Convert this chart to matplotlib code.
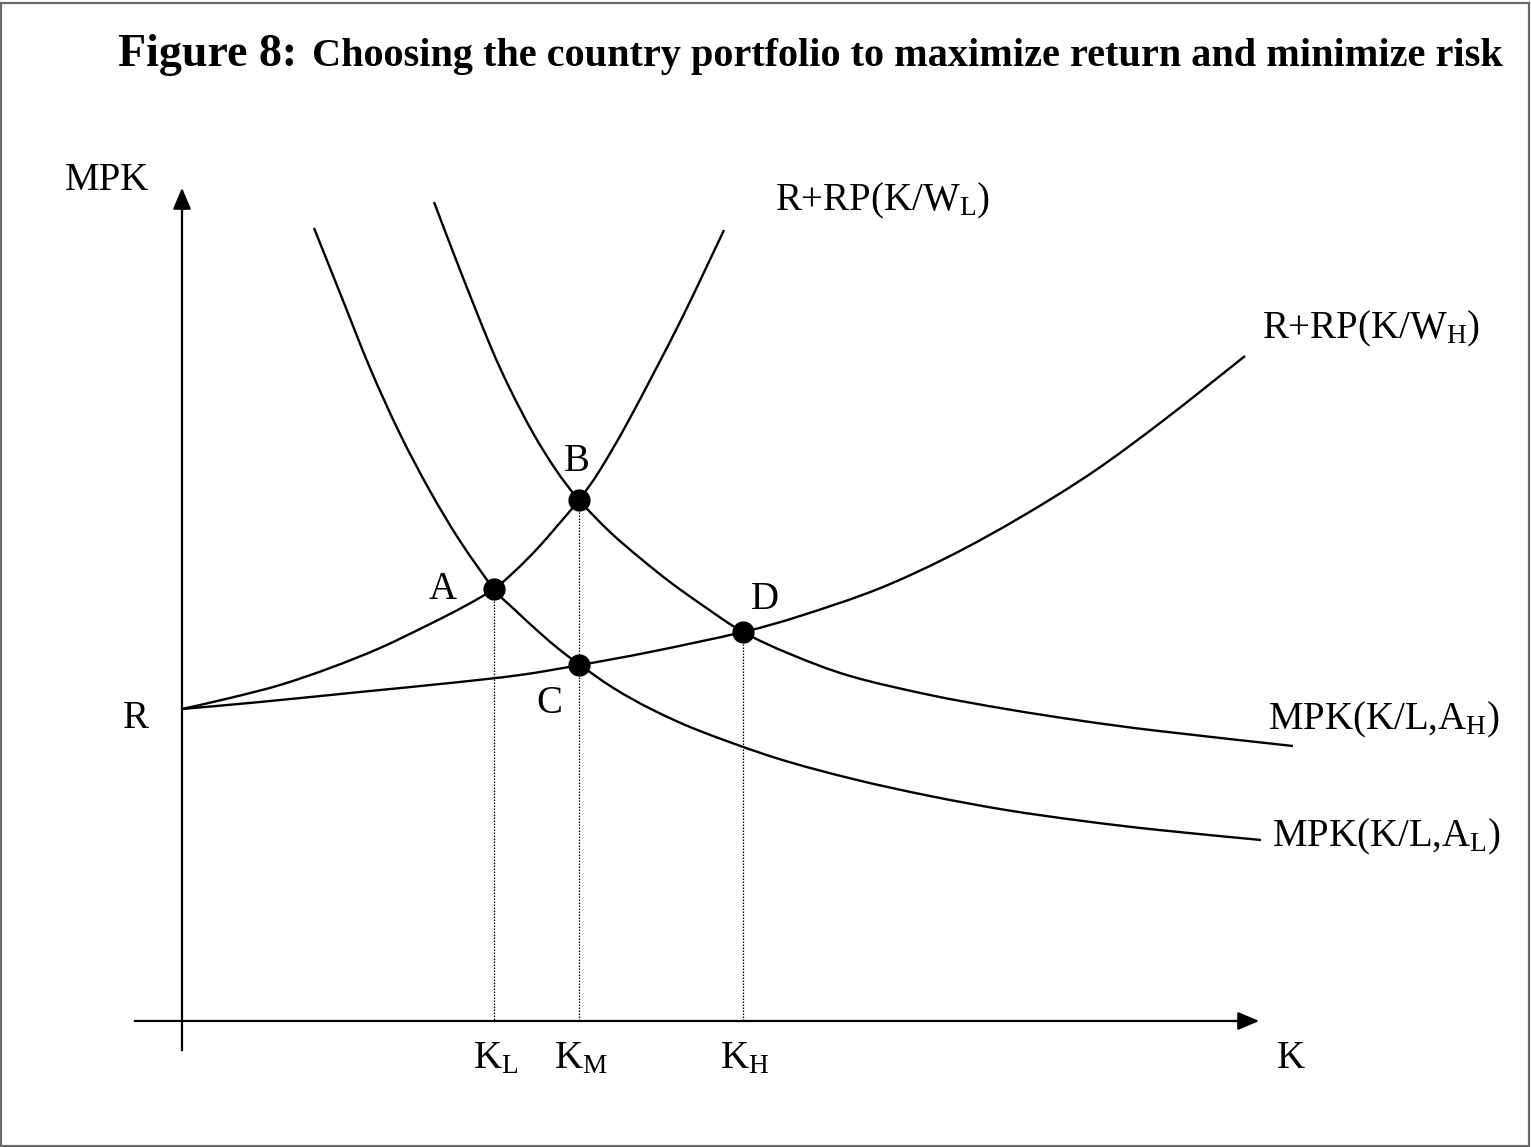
import matplotlib
matplotlib.use("Agg")
import numpy as np
import matplotlib.pyplot as plt
from matplotlib.patches import Rectangle, PathPatch
from matplotlib.path import Path

plt.rcParams['font.family'] = ['Liberation Serif', 'DejaVu Serif']
plt.rcParams['mathtext.fontset'] = 'custom'
plt.rcParams['mathtext.rm'] = 'Liberation Serif'
plt.rcParams['mathtext.default'] = 'rm'

# schematic coordinates (x to the right, y downward)
origin_x = 182
axis_y = 1021

# MPK(K/L, A_L)
mpk_low_x = [314, 340, 370, 400, 430, 460, 494, 515, 540, 560, 580, 615, 653, 700, 776, 853, 930, 1006, 1083, 1159, 1261]
mpk_low_y = [228, 293, 368, 434, 491, 541, 589, 610, 633, 650, 665, 689, 710, 731, 758, 779, 796, 810, 821, 830, 840]

# MPK(K/L, A_H)
mpk_high_x = [434, 460, 490, 510, 533, 556, 579, 610, 640, 670, 705, 743, 790, 850, 930, 1006, 1083, 1159, 1293]
mpk_high_y = [202, 270, 345, 389, 433, 470, 500, 532, 558, 582, 607, 632, 654, 676, 695, 709, 721, 731, 746]

# R+RP(K/W_L)
rp_low_x = [182, 230, 280, 330, 380, 430, 465, 494, 515, 537, 558, 579, 600, 630, 680, 724]
rp_low_y = [709, 698, 685, 668, 648, 624, 606, 589, 571, 549, 525, 500, 470, 418, 322, 230]

# R+RP(K/W_H)
rp_high_x = [182, 260, 360, 450, 520, 580, 650, 743, 800, 878, 950, 1021, 1093, 1164, 1245]
rp_high_y = [709, 702, 692, 683, 675, 665, 652, 632, 616, 589, 556, 517, 472, 420, 356]

# equilibrium points A, B, C, D
pt_names = ['A', 'B', 'C', 'D']
pt_x = [494, 579, 579, 743]
pt_y = [589, 500, 665, 632]

# K levels on the horizontal axis
k_names = ['K$_{L}$', 'K$_{M}$', 'K$_{H}$']
k_x = [494, 579, 743]
k_top = [589, 500, 632]


def smooth_path(xs, ys):
    # bezier path through the read points (Catmull-Rom handles)
    pts = np.column_stack([xs, ys]).astype(float)
    n = len(pts)
    verts = [pts[0]]
    codes = [Path.MOVETO]
    for i in range(n - 1):
        p0 = pts[i - 1] if i > 0 else pts[i]
        p1, p2 = pts[i], pts[i + 1]
        p3 = pts[i + 2] if i + 2 < n else pts[i + 1]
        verts += [p1 + (p2 - p0) / 6, p2 - (p3 - p1) / 6, p2]
        codes += [Path.CURVE4] * 3
    return Path(verts, codes)


fig = plt.figure(figsize=(15.31, 11.47), dpi=100)
ax = fig.add_axes([0, 0, 1, 1])
ax.set_xlim(0, 1531)
ax.set_ylim(1147, 0)
ax.axis('off')

# frame round the figure
fig.patches.append(Rectangle((0.0005, 0.0005), 0.998, 0.997, transform=fig.transFigure,
                             fill=False, edgecolor='#6a6a6a', lw=1.6))

# axes with arrows
ax.plot([origin_x, origin_x], [1050, 200], color='black', lw=1.6)
ax.annotate('', xy=(origin_x, 185), xytext=(origin_x, 215),
            arrowprops=dict(arrowstyle='-|>,head_length=1.3,head_width=0.55', color='black', lw=1.6))
ax.plot([135, 1245], [axis_y, axis_y], color='black', lw=1.6)
ax.annotate('', xy=(1262, axis_y), xytext=(1230, axis_y),
            arrowprops=dict(arrowstyle='-|>,head_length=1.3,head_width=0.55', color='black', lw=1.6))

# curves
for cx, cy in [(mpk_low_x, mpk_low_y), (mpk_high_x, mpk_high_y),
               (rp_low_x, rp_low_y), (rp_high_x, rp_high_y)]:
    ax.add_patch(PathPatch(smooth_path(cx, cy), fill=False, edgecolor='black', lw=1.7))

# dotted drop lines
for x, top in zip(k_x, k_top):
    ax.plot([x, x], [top, axis_y], color='black', lw=0.9, linestyle=(0, (1.2, 1.2)))

ax.plot(pt_x, pt_y, 'o', color='black', markersize=15, linestyle='none', zorder=5)

fs = 28
ax.text(65, 190, 'MPK', fontsize=fs, ha='left', va='baseline')
ax.text(136, 728, 'R', fontsize=fs, ha='center', va='baseline')
lab_dx = [-51, -2, -30, 22]
lab_dy = [10, -29, 48, -23]
for name, x, y, dx, dy in zip(pt_names, pt_x, pt_y, lab_dx, lab_dy):
    ax.text(x + dx, y + dy, name, fontsize=fs, ha='center', va='baseline')
for name, x in zip(k_names, k_x):
    ax.text(x + 2, 1068, name, fontsize=fs, ha='center', va='baseline')
ax.text(1291, 1068, 'K', fontsize=fs, ha='center', va='baseline')

ax.text(775, 210, 'R+RP(K/W$_{L}$)', fontsize=fs, ha='left', va='baseline')
ax.text(1262, 338, 'R+RP(K/W$_{H}$)', fontsize=fs, ha='left', va='baseline')
ax.text(1268, 729, 'MPK(K/L,A$_{H}$)', fontsize=fs, ha='left', va='baseline')
ax.text(1272, 846, 'MPK(K/L,A$_{L}$)', fontsize=fs, ha='left', va='baseline')

# title
ax.text(118, 66, 'Figure 8:', fontsize=33, fontweight='bold', ha='left', va='baseline')
ax.text(1503, 66, 'Choosing the country portfolio to maximize return and minimize risk',
        fontsize=29, fontweight='bold', ha='right', va='baseline')

fig.savefig('out.png', dpi=100)
